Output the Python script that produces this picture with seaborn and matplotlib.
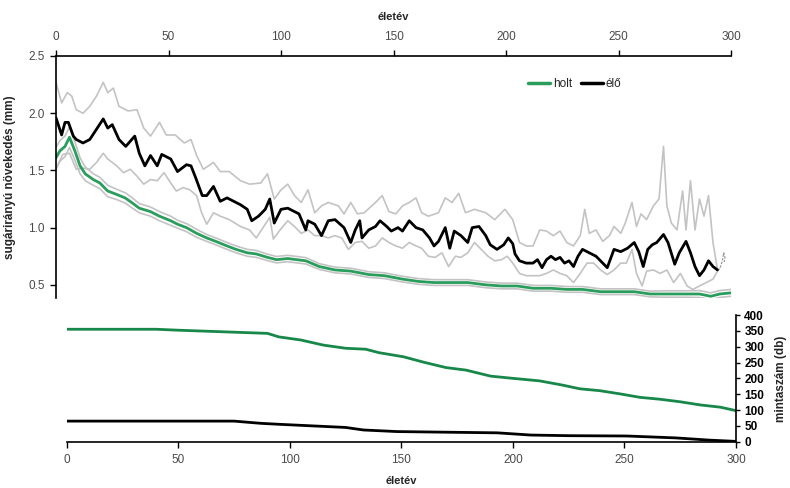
import matplotlib
matplotlib.use("Agg")
import matplotlib.pyplot as plt
from matplotlib.lines import Line2D
import seaborn as sns

# ---- radial growth (mm): living trees ("élő") ----
elo_ev = [0, 2.5, 4, 5.5, 7.7, 9, 12, 15, 18, 21, 23, 25, 28, 31, 35, 37, 39.5, 42, 45, 47,
          51, 54, 58, 60, 62, 65, 67, 70, 73, 76, 79, 82, 85, 87, 90, 93, 95, 97, 100, 103,
          106, 108, 111, 112, 115, 118, 121, 124, 128, 131, 133, 135, 136, 139, 142, 144, 147, 149, 152, 154,
          157, 160, 163, 166, 168, 170, 173, 175, 177, 180, 183, 185, 188, 191, 193, 196, 199, 201, 203, 204,
          206, 209, 212, 214, 216, 218, 220, 222, 224, 226, 228, 230, 232, 234, 237, 240, 242, 245, 248, 251,
          254, 257, 259, 261, 263, 265, 267, 270, 272, 275, 277, 280, 282, 284, 286, 288, 290, 292, 294]
elo = [1.96, 1.81, 1.92, 1.92, 1.80, 1.77, 1.74, 1.77, 1.86, 1.95, 1.87, 1.90, 1.77, 1.71, 1.80, 1.65, 1.54, 1.63, 1.54, 1.64,
       1.60, 1.49, 1.55, 1.54, 1.44, 1.28, 1.28, 1.36, 1.23, 1.26, 1.23, 1.20, 1.16, 1.06, 1.10, 1.16, 1.25, 1.04, 1.16, 1.17,
       1.14, 1.12, 0.98, 1.06, 1.03, 0.93, 1.06, 1.07, 1.00, 0.87, 0.98, 1.06, 0.91, 0.98, 1.01, 1.06, 1.01, 0.97, 1.00, 0.97,
       1.06, 1.00, 0.98, 0.91, 0.84, 0.88, 1.00, 0.82, 0.97, 0.93, 0.87, 1.00, 1.01, 0.93, 0.85, 0.81, 0.85, 0.91, 0.86, 0.77,
       0.71, 0.69, 0.69, 0.72, 0.65, 0.72, 0.75, 0.72, 0.74, 0.69, 0.71, 0.66, 0.75, 0.81, 0.78, 0.75, 0.71, 0.65, 0.81, 0.79,
       0.82, 0.87, 0.79, 0.66, 0.81, 0.85, 0.87, 0.94, 0.87, 0.68, 0.78, 0.88, 0.78, 0.66, 0.58, 0.63, 0.71, 0.66, 0.63]

elo_felso_ev = [0, 2.5, 5, 7, 9, 12, 15, 18, 21, 23, 25.5, 28, 32, 36, 39, 42, 46, 49, 53, 57,
                60, 62.5, 65.5, 70, 73, 77, 82, 86, 91, 94, 97, 100, 103, 106, 109, 112, 115, 118, 121, 125.5,
                128, 131, 134, 137, 142, 145, 148, 151, 154, 157, 160, 162.5, 165.5, 170, 173, 176, 179, 182, 186, 191,
                195, 199.5, 203, 206, 209, 212, 215, 218, 221, 224, 227, 230, 233, 235, 237, 240, 243, 246, 248, 251,
                253, 256, 258, 260, 262.5, 265.5, 268, 270, 271.5, 273.5, 276, 278.5, 280, 282, 284, 286, 288, 290, 292, 294]
elo_felso = [2.27, 2.09, 2.18, 2.15, 2.03, 2.00, 2.06, 2.15, 2.27, 2.18, 2.22, 2.06, 2.02, 2.03, 1.87, 1.80, 1.92, 1.81, 1.81, 1.74,
             1.77, 1.63, 1.51, 1.57, 1.49, 1.49, 1.41, 1.38, 1.39, 1.47, 1.25, 1.33, 1.38, 1.28, 1.22, 1.33, 1.13, 1.19, 1.22, 1.19,
             1.12, 1.22, 1.12, 1.13, 1.22, 1.28, 1.14, 1.12, 1.19, 1.22, 1.26, 1.13, 1.10, 1.13, 1.26, 1.22, 1.30, 1.13, 1.16, 1.13,
             1.07, 1.16, 1.07, 0.87, 0.84, 0.84, 0.98, 0.97, 0.93, 0.97, 0.87, 0.84, 0.93, 1.16, 0.95, 0.98, 0.88, 0.93, 1.01, 0.95,
             1.04, 1.22, 1.01, 1.12, 1.07, 1.19, 1.25, 1.71, 1.19, 1.04, 0.98, 1.32, 0.98, 1.41, 0.98, 1.25, 1.10, 1.28, 0.87, 0.63]

elo_also_ev = [0, 3, 6, 9, 12, 15, 18, 21, 23, 27, 30, 33, 36, 39, 42, 45, 48, 51, 53.5, 56.5,
               59.5, 62.5, 64.7, 67, 70, 73, 77, 82, 86, 89, 93, 95, 96.6, 99.6, 103, 106, 109, 112, 115, 118,
               121, 124, 127, 130, 133, 136, 139, 142, 145, 148, 151, 154, 157, 160, 162.5, 165.5, 168.5, 171.5, 174.5, 177.5,
               180, 183, 186, 189, 192, 195, 198, 200.5, 203, 206, 209, 212, 215, 218, 221, 224, 227, 230, 233, 236,
               239, 242, 245, 248, 251, 253.5, 256, 258, 260.5, 262.5, 265.5, 268.5, 271.5, 274.5, 277.5, 280.5, 283, 286, 289, 292, 294]
elo_also = [1.51, 1.64, 1.65, 1.51, 1.52, 1.51, 1.57, 1.65, 1.60, 1.54, 1.48, 1.51, 1.45, 1.38, 1.42, 1.41, 1.48, 1.39, 1.32, 1.35,
            1.33, 1.28, 1.13, 1.03, 1.13, 1.10, 1.07, 1.01, 0.98, 0.91, 1.03, 1.09, 0.90, 0.98, 1.06, 1.01, 0.95, 0.98, 0.93, 0.93,
            0.91, 0.93, 0.91, 0.81, 0.87, 0.88, 0.82, 0.84, 0.91, 0.87, 0.84, 0.82, 0.87, 0.84, 0.82, 0.75, 0.74, 0.78, 0.66, 0.75,
            0.74, 0.78, 0.87, 0.81, 0.75, 0.71, 0.72, 0.75, 0.69, 0.60, 0.58, 0.58, 0.58, 0.60, 0.63, 0.60, 0.58, 0.52, 0.60, 0.69,
            0.69, 0.63, 0.59, 0.63, 0.69, 0.69, 0.81, 0.60, 0.49, 0.62, 0.63, 0.60, 0.63, 0.52, 0.60, 0.49, 0.46, 0.49, 0.52, 0.55, 0.62]

# short tail after the last living-tree value
elo_veg_ev = [294, 295, 296, 296.8, 297.3, 297.0]
elo_veg = [0.63, 0.64, 0.70, 0.78, 0.74, 0.70]

# ---- radial growth (mm): dead trees ("holt"), mean and standard error ----
holt_ev = [0, 1.7, 4, 6, 8.4, 10.7, 13, 16.6, 19.5, 23, 27, 30.7, 33.6, 37, 42, 46, 51, 54, 58, 62.5,
           67, 71, 76, 80, 85, 89, 94, 98, 103, 111, 117, 124, 131, 139, 146, 154, 161, 168, 176, 183,
           191, 198, 205, 212, 220, 227, 234, 242, 249, 257, 264, 271, 279, 286, 291, 295, 300]
holt = [1.61, 1.67, 1.71, 1.79, 1.67, 1.54, 1.47, 1.42, 1.39, 1.32, 1.29, 1.26, 1.22, 1.17, 1.14, 1.10, 1.06, 1.03, 1.00, 0.95,
        0.91, 0.88, 0.84, 0.81, 0.78, 0.77, 0.74, 0.72, 0.73, 0.71, 0.66, 0.63, 0.62, 0.59, 0.58, 0.55, 0.53, 0.52, 0.52, 0.52,
        0.50, 0.49, 0.49, 0.47, 0.47, 0.46, 0.46, 0.44, 0.44, 0.44, 0.42, 0.42, 0.42, 0.42, 0.40, 0.42, 0.43]
holt_se = [0.09, 0.09, 0.09, 0.09, 0.08, 0.07, 0.06, 0.05, 0.05, 0.05, 0.045, 0.045, 0.045, 0.04, 0.04, 0.04, 0.04, 0.035, 0.035, 0.035,
           0.03, 0.03, 0.03, 0.03, 0.03, 0.03, 0.028, 0.028, 0.028, 0.028, 0.025, 0.025, 0.025, 0.025, 0.025, 0.025, 0.025, 0.025, 0.025, 0.025,
           0.025, 0.025, 0.025, 0.025, 0.025, 0.025, 0.025, 0.025, 0.025, 0.025, 0.025, 0.028, 0.028, 0.03, 0.03, 0.03, 0.03]

# ---- sample depth (db) ----
holt_db_ev = [0, 40, 50, 90, 95, 105, 115, 125, 134, 140, 151, 160, 170, 179, 190, 200, 212, 222, 230, 239,
              248, 257, 266, 275, 284, 293, 300]
holt_db = [355, 355, 352, 342, 331, 321, 305, 295, 292, 281, 268, 251, 234, 226, 207, 200, 192, 179, 167, 161,
           151, 140, 134, 126, 116, 109, 98]
elo_db_ev = [0, 75, 87, 95, 110, 125, 133, 148, 170, 193, 208, 225, 251, 273, 288, 300]
elo_db = [65, 65, 58, 55, 50, 45, 37, 32, 30, 28, 21, 19, 18, 12, 5, 1]

GREEN = "#2a9d5c"
GREEN_DARK = "#17884a"
GREY = "#c3c3c3"
TICK_GREY = "#4a4a4a"

sns.set_style("white")
plt.rcParams["font.family"] = ["Liberation Sans", "DejaVu Sans"]
plt.rcParams["font.size"] = 8

fig = plt.figure(figsize=(7.90, 4.88), dpi=100)
ax_top = fig.add_axes([56 / 790, 1 - 298 / 488, (731 - 56) / 790, (298 - 56) / 488])
ax_bot = fig.add_axes([66.7 / 790, 1 - 441.7 / 488, (736 - 66.7) / 790, (441.7 - 315) / 488])
for a in (ax_top, ax_bot):
    a.patch.set_alpha(0)

# ---- upper panel: growth curves ----
holt_hi = [m + s for m, s in zip(holt, holt_se)]
holt_lo = [m - s for m, s in zip(holt, holt_se)]
grey_kw = dict(color=GREY, linewidth=1.2, estimator=None, sort=False, legend=False)
sns.lineplot(x=elo_felso_ev, y=elo_felso, ax=ax_top, **grey_kw)
sns.lineplot(x=elo_also_ev, y=elo_also, ax=ax_top, **grey_kw)
sns.lineplot(x=holt_ev, y=holt_hi, ax=ax_top, **grey_kw)
sns.lineplot(x=holt_ev, y=holt_lo, ax=ax_top, **grey_kw)
sns.lineplot(x=elo_veg_ev, y=elo_veg, ax=ax_top, color="#9a9a9a", linewidth=0.9,
             linestyle=(0, (2, 1)), estimator=None, sort=False, legend=False)
sns.lineplot(x=holt_ev, y=holt, ax=ax_top, color=GREEN, linewidth=2.0, estimator=None, sort=False, legend=False)
sns.lineplot(x=elo_ev, y=elo, ax=ax_top, color="black", linewidth=2.0, estimator=None, sort=False, legend=False)

ax_top.set_xlim(0, 300)
ax_top.set_ylim(0.385, 2.5)
ax_top.set_xticks(range(0, 301, 50))
ax_top.set_yticks([0.5, 1.0, 1.5, 2.0, 2.5])
ax_top.set_yticklabels(["0.5", "1.0", "1.5", "2.0", "2.5"])
ax_top.xaxis.tick_top()
ax_top.xaxis.set_label_position("top")
ax_top.spines["bottom"].set_visible(False)
ax_top.spines["right"].set_visible(False)
for s in ("top", "left"):
    ax_top.spines[s].set_color("black")
    ax_top.spines[s].set_linewidth(1.2)
ax_top.tick_params(axis="both", which="major", direction="out", length=4, width=1.0,
                   colors="black", labelcolor=TICK_GREY, labelsize=8.5, pad=4)
ax_top.tick_params(axis="x", top=True, bottom=False, pad=5)
ax_top.tick_params(axis="y", left=True, right=False)
ax_top.set_xlabel("életév", fontweight="bold", fontsize=8, labelpad=8)
ax_top.set_ylabel("sugárirányú növekedés (mm)", fontweight="bold", fontsize=8.5, labelpad=9)

handles = [Line2D([], [], color=GREEN, linewidth=2.5), Line2D([], [], color="black", linewidth=2.5)]
ax_top.legend(handles, ["holt", "élő"], loc="center left", bbox_to_anchor=(0.692, 0.885),
              ncol=2, frameon=False, handlelength=1.9, handletextpad=0.25, columnspacing=0.7,
              fontsize=8.5, borderaxespad=0)

# ---- lower panel: sample depth ----
sns.lineplot(x=holt_db_ev, y=holt_db, ax=ax_bot, color=GREEN_DARK, linewidth=2.0, estimator=None, sort=False, legend=False)
sns.lineplot(x=elo_db_ev, y=elo_db, ax=ax_bot, color="black", linewidth=2.0, estimator=None, sort=False, legend=False)
ax_bot.set_xlim(0, 300)
ax_bot.set_ylim(0, 400)
ax_bot.set_xticks(range(0, 301, 50))
ax_bot.set_yticks(range(0, 401, 50))
ax_bot.yaxis.tick_right()
ax_bot.yaxis.set_label_position("right")
ax_bot.spines["top"].set_visible(False)
ax_bot.spines["left"].set_visible(False)
for s in ("bottom", "right"):
    ax_bot.spines[s].set_color("black")
    ax_bot.spines[s].set_linewidth(1.2)
ax_bot.tick_params(axis="both", which="major", direction="out", length=4, width=1.0, colors="black", pad=5)
ax_bot.tick_params(axis="x", labelcolor=TICK_GREY, labelsize=8.5, bottom=True, top=False)
ax_bot.tick_params(axis="y", labelcolor="black", labelsize=8.5, right=True, left=False, length=3, pad=3)
for lab in ax_bot.get_yticklabels():
    lab.set_fontweight("bold")
ax_bot.set_xlabel("életév", fontweight="bold", fontsize=8, labelpad=7)
ax_bot.set_ylabel("mintaszám (db)", fontweight="bold", fontsize=8.5, labelpad=8, rotation=90)

fig.savefig("out.png", dpi=100)
